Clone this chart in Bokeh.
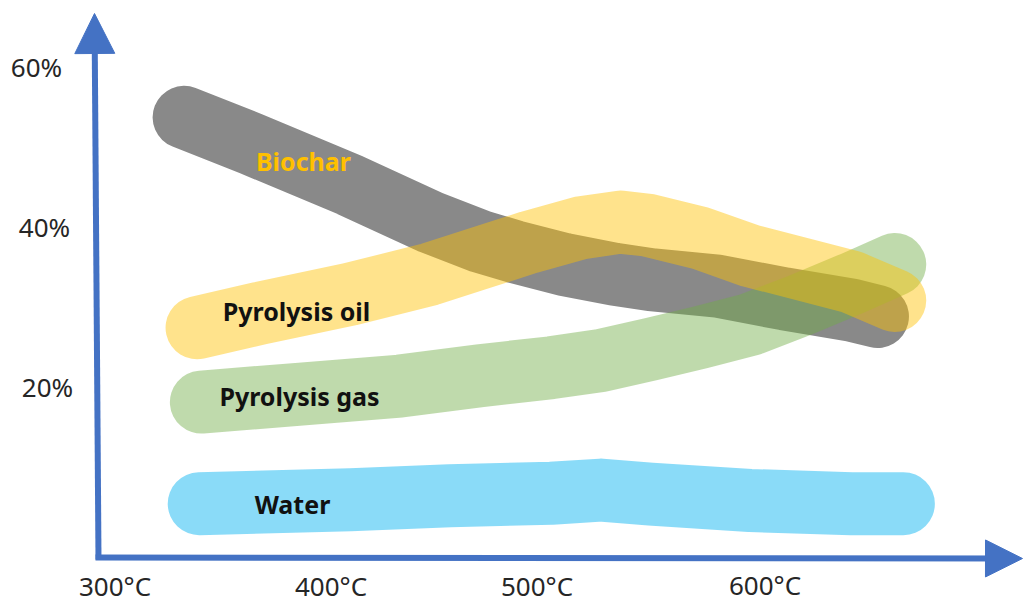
from bokeh.plotting import figure
from bokeh.models import Range1d, Arrow, NormalHead
from bokeh.core.properties import value
from bokeh.embed import file_html
from bokeh.resources import INLINE

# ---------------- data ----------------
biochar_t = [332, 363, 409, 446, 469, 485, 508, 531, 548, 579, 610, 641, 653]
biochar_y = [53.9, 50.6, 45.4, 40.8, 38.4, 37.1, 35.5, 34.3, 33.6, 32.8, 31.2, 29.8, 29.0]

oil_t = [338, 367, 409, 446, 469, 492, 516, 534, 547, 571, 594, 641, 661]
oil_y = [27.6, 29.4, 31.8, 34.3, 36.3, 38.3, 40.1, 40.8, 40.4, 38.8, 36.6, 33.3, 31.0]

gas_t = [340, 386, 432, 469, 502, 525, 548, 571, 594, 617, 641, 661]
gas_y = [18.3, 19.3, 20.3, 21.6, 22.6, 23.5, 24.9, 26.4, 28.0, 30.4, 33.1, 35.5]

water_t = [339, 409, 455, 502, 525, 548, 594, 641, 665]
water_y = [5.6, 6.1, 6.6, 6.9, 7.3, 6.8, 6.0, 5.6, 5.6]

temp_ticks = [300, 400, 500, 600]
temp_labels = ["300°C", "400°C", "500°C", "600°C"]
pct_ticks = [20, 40, 60]
pct_labels = ["20%", "40%", "60%"]

series_names = ["Biochar", "Pyrolysis oil", "Pyrolysis gas", "Water"]

# ---------------- layout / style ----------------
W, H = 1024, 603
PX_PER_DEG = 2.16
PX_PER_PCT = 8.0
T0 = 247.0
BLUE = "#4472C4"
FONT = "Noto Sans"


def X(px):
    # canvas pixel -> data temperature
    return T0 + px / PX_PER_DEG


def Y(py):
    return (548 - py) / PX_PER_PCT


p = figure(width=W, height=H, output_backend="svg", toolbar_location=None,
           x_range=Range1d(X(0), X(W)), y_range=Range1d(Y(H), Y(0)),
           x_axis_location=None, y_axis_location=None, min_border=0,
           outline_line_color=None, background_fill_color="white",
           border_fill_color="white")
p.xgrid.visible = False
p.ygrid.visible = False

BAND = 63
p.line(biochar_t, biochar_y, line_width=BAND, line_color="#898989", line_alpha=1.0,
       line_cap="round", line_join="round")
p.line(gas_t, gas_y, line_width=BAND, line_color="#70AD47", line_alpha=0.45,
       line_cap="round", line_join="round")
p.line(oil_t, oil_y, line_width=BAND, line_color="#FFC000", line_alpha=0.45,
       line_cap="round", line_join="round")
p.line(water_t, water_y, line_width=BAND, line_color="#00B0F0", line_alpha=0.46,
       line_cap="round", line_join="round")

# series labels
label_px = [(303, 160), (296, 310), (299, 395), (292, 503)]
label_colors = ["#FFC000", "#111111", "#111111", "#111111"]
p.text(x=[X(a) for a, b in label_px], y=[Y(b) for a, b in label_px],
       text=series_names, text_color=label_colors,
       text_font=value(FONT), text_font_style="bold", text_font_size="25px",
       text_align="center", text_baseline="middle")

# axes as arrows
p.add_layout(Arrow(end=NormalHead(size=40, fill_color=BLUE, line_color=BLUE, line_width=1),
                   x_start=X(98), y_start=Y(559), x_end=X(94), y_end=Y(13),
                   line_color=BLUE, line_width=6))
p.add_layout(Arrow(end=NormalHead(size=37, fill_color=BLUE, line_color=BLUE, line_width=1),
                   x_start=X(95), y_start=Y(557), x_end=X(1022), y_end=Y(558),
                   line_color=BLUE, line_width=6))

# tick labels
p.text(x=[X(44)] * len(pct_ticks), y=pct_ticks, text=pct_labels,
       x_offset=[3, 0, -8], y_offset=-2, text_color="#262626",
       text_font=value(FONT), text_font_size="26px",
       text_align="center", text_baseline="middle")
p.text(x=temp_ticks, y=[Y(585)] * len(temp_ticks), text=temp_labels,
       x_offset=[0, 0, -10, 2], y_offset=[0, 0, 0, -1], text_color="#262626",
       text_font=value(FONT), text_font_size="26px",
       text_align="center", text_baseline="middle")

open("out.html", "w").write(file_html(p, INLINE))
